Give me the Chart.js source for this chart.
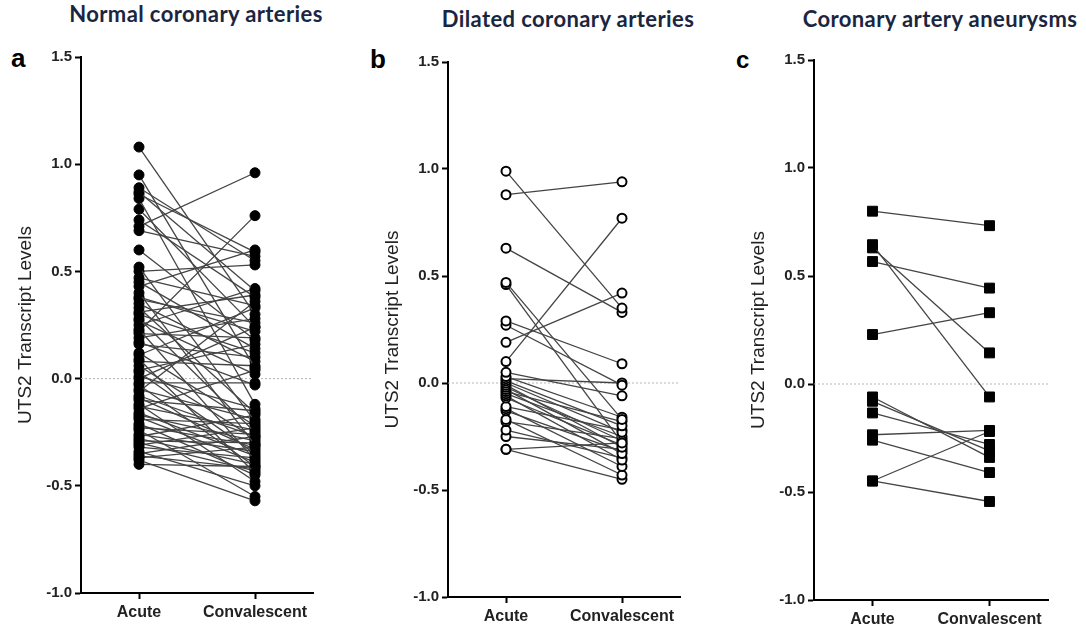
<!DOCTYPE html>
<html>
<head>
<meta charset="utf-8">
<script src="https://cdn.jsdelivr.net/npm/chart.js@4.4.0/dist/chart.umd.min.js"></script>
<style>
    html, body { margin: 0; padding: 0; background: #fff; }
    body { width: 1086px; height: 632px; position: relative; overflow: hidden; }
    .panel { position: absolute; top: 0; }
    .titre {
        position: absolute;
        font-family: Lato, 'Open Sans', sans-serif;
        font-weight: 700;
        font-size: 22px;
        line-height: 26px;
        letter-spacing: 0.4px;
        color: #1a2640;
        white-space: nowrap;
        transform: translateX(-50%);
    }
    .lettre {
        position: absolute;
        font-family: 'Liberation Sans', Arial, sans-serif;
        font-weight: 700;
        color: #000;
    }
</style>
</head>
<body>

<div class="titre" style="left:196px; top:1px;">Normal coronary arteries</div>
<div class="titre" style="left:568px; top:6px;">Dilated coronary arteries</div>
<div class="titre" style="left:940px; top:6px;">Coronary artery aneurysms</div>

<div class="lettre" style="left:11px; top:43px; font-size:26px; line-height:30px;">a</div>
<div class="lettre" style="left:370px; top:44px; font-size:26px; line-height:30px;">b</div>
<div class="lettre" style="left:736px; top:46px; font-size:24px; line-height:28px;">c</div>

<canvas class="panel" id="chartNormal" width="340" height="632" style="left:0px;"></canvas>
<canvas class="panel" id="chartDilated" width="340" height="632" style="left:367px;"></canvas>
<canvas class="panel" id="chartAneurysm" width="353" height="632" style="left:733px;"></canvas>

<script>
// Libellés de l'axe X
const xLabels = ['Acute', 'Convalescent'];

// a - artères coronaires normales (phase aiguë / convalescence, par patient)
const acuteNormal = [1.08, 0.95, 0.89, 0.87, 0.86, 0.84, 0.79, 0.74, 0.71, 0.69,
    0.60, 0.52, 0.50, 0.47, 0.45, 0.43, 0.40, 0.38, 0.37, 0.35,
    0.33, 0.31, 0.30, 0.28, 0.27, 0.25, 0.23, 0.22, 0.21, 0.19,
    0.17, 0.16, 0.12, 0.11, 0.09, 0.08, 0.06, 0.04, 0.03, 0.01,
    0.00, -0.02, -0.03, -0.05, -0.06, -0.08, -0.09, -0.10, -0.12, -0.13,
    -0.14, -0.16, -0.17, -0.18, -0.19, -0.21, -0.22, -0.23, -0.24, -0.26,
    -0.27, -0.28, -0.29, -0.30, -0.31, -0.32, -0.34, -0.35, -0.36, -0.37,
    -0.38, -0.40];
const convNormal = [0.30, 0.05, 0.55, 0.41, 0.59, -0.12, 0.24, 0.38, 0.96, 0.57,
    0.18, -0.20, 0.53, 0.34, 0.14, 0.60, -0.31, 0.22, 0.26, 0.08,
    -0.16, 0.39, 0.12, -0.25, 0.02, 0.42, -0.38, 0.76, 0.19, 0.28,
    -0.03, 0.10, -0.22, 0.33, -0.44, 0.06, -0.28, 0.16, -0.35, -0.14,
    0.24, -0.02, -0.41, -0.19, 0.36, -0.27, -0.33, -0.15, -0.48, -0.24,
    0.04, -0.36, -0.29, -0.39, -0.21, -0.45, -0.31, -0.26, -0.55, -0.34,
    -0.17, -0.40, -0.30, -0.43, -0.23, -0.37, -0.50, -0.27, -0.42, -0.32,
    -0.57, -0.41];

// b - artères coronaires dilatées
const acuteDilated = [0.99, 0.88, 0.63, 0.47, 0.46, 0.29, 0.27, 0.19, 0.10, 0.05,
    0.03, 0.02, 0.01, 0.00, -0.01, -0.02, -0.03, -0.04, -0.05, -0.06,
    -0.07, -0.11, -0.12, -0.13, -0.17, -0.18, -0.22, -0.25, -0.31, -0.31];
const convDilated = [0.35, 0.94, 0.33, -0.17, -0.28, 0.09, -0.01, 0.42, 0.77, -0.06,
    -0.16, 0.00, -0.20, -0.23, -0.30, -0.27, -0.33, -0.18, -0.25, -0.36,
    -0.29, -0.22, -0.39, -0.32, -0.43, -0.26, -0.35, -0.31, -0.45, -0.28];

// c - anévrismes coronaires
const acuteAneurysm = [0.80, 0.645, 0.63, 0.567, 0.229, -0.06, -0.08, -0.134, -0.235, -0.26, -0.449, -0.449];
const convAneurysm = [0.733, -0.06, 0.144, 0.444, 0.33, -0.34, -0.31, -0.28, -0.215, -0.41, -0.22, -0.544];

const FONT_AXES = "'Liberation Sans', Arial, sans-serif";

const KawasakiCharts = {

    /**
     * Jeux de données : une ligne par patient + la ligne pointillée du zéro
     */
    buildDatasets: function(acute, conv, pointStyle) {
        const datasets = acute.map((v, i) => ({
            data: [{ x: 0, y: v }, { x: 1, y: conv[i] }],
            borderColor: '#444',
            borderWidth: 1.3,
            pointStyle: pointStyle.style,
            pointRadius: pointStyle.radius,
            pointBackgroundColor: pointStyle.fill,
            pointBorderColor: '#000',
            pointBorderWidth: pointStyle.border,
            order: 0
        }));

        datasets.push({
            data: [{ x: -0.5, y: 0 }, { x: 1.5, y: 0 }],
            borderColor: '#b5b5b5',
            borderWidth: 1,
            borderDash: [2, 2],
            pointRadius: 0,
            order: 1
        });
        return datasets;
    },

    /**
     * Création d'un panneau
     */
    initPanel: function(canvasId, acute, conv, pointStyle, layout) {
        const canvas = document.getElementById(canvasId);
        if (!canvas) return;

        new Chart(canvas.getContext('2d'), {
            type: 'line',
            data: {
                datasets: this.buildDatasets(acute, conv, pointStyle)
            },
            options: {
                responsive: false,
                animation: false,
                layout: {
                    padding: { top: layout.top, right: layout.right, left: 0, bottom: 0 }
                },
                plugins: {
                    legend: { display: false },
                    tooltip: { enabled: false }
                },
                scales: {
                    x: {
                        type: 'linear',
                        min: -0.5,
                        max: 1.5,
                        afterBuildTicks: function(scale) {
                            scale.ticks = [{ value: 0 }, { value: 1 }];
                        },
                        afterFit: function(scale) {
                            scale.height = layout.bottom;
                        },
                        ticks: {
                            autoSkip: false,
                            maxRotation: 0,
                            padding: 4,
                            color: '#222',
                            font: { family: FONT_AXES, size: 16, weight: 'bold' },
                            callback: function(value) {
                                return xLabels[value];
                            }
                        },
                        grid: {
                            drawOnChartArea: false,
                            tickLength: 6,
                            tickWidth: 2,
                            tickColor: '#000'
                        },
                        border: { color: '#000', width: 2 }
                    },
                    y: {
                        min: -1,
                        max: 1.5,
                        afterFit: function(scale) {
                            scale.width = 81;
                        },
                        ticks: {
                            stepSize: 0.5,
                            padding: 3,
                            color: '#222',
                            font: { family: FONT_AXES, size: 15, weight: 'bold' },
                            callback: function(value) {
                                return value.toFixed(1);
                            }
                        },
                        grid: {
                            drawOnChartArea: false,
                            tickLength: 6,
                            tickWidth: 2,
                            tickColor: '#000'
                        },
                        border: { color: '#000', width: 2 },
                        title: {
                            display: true,
                            text: 'UTS2 Transcript Levels',
                            color: '#222',
                            font: { family: FONT_AXES, size: 19 },
                            padding: { top: 14, bottom: 0 }
                        }
                    }
                }
            }
        });
    },

    init: function() {
        this.initPanel('chartNormal', acuteNormal, convNormal,
            { style: 'circle', radius: 5, fill: '#000', border: 1 },
            { top: 57, right: 27, bottom: 632 - 593 });

        this.initPanel('chartDilated', acuteDilated, convDilated,
            { style: 'circle', radius: 4.5, fill: '#fff', border: 2 },
            { top: 62, right: 27, bottom: 632 - 597 });

        this.initPanel('chartAneurysm', acuteAneurysm, convAneurysm,
            { style: 'rect', radius: 7, fill: '#000', border: 1 },
            { top: 60, right: 38, bottom: 632 - 600 });
    }
};

KawasakiCharts.init();
</script>
</body>
</html>
